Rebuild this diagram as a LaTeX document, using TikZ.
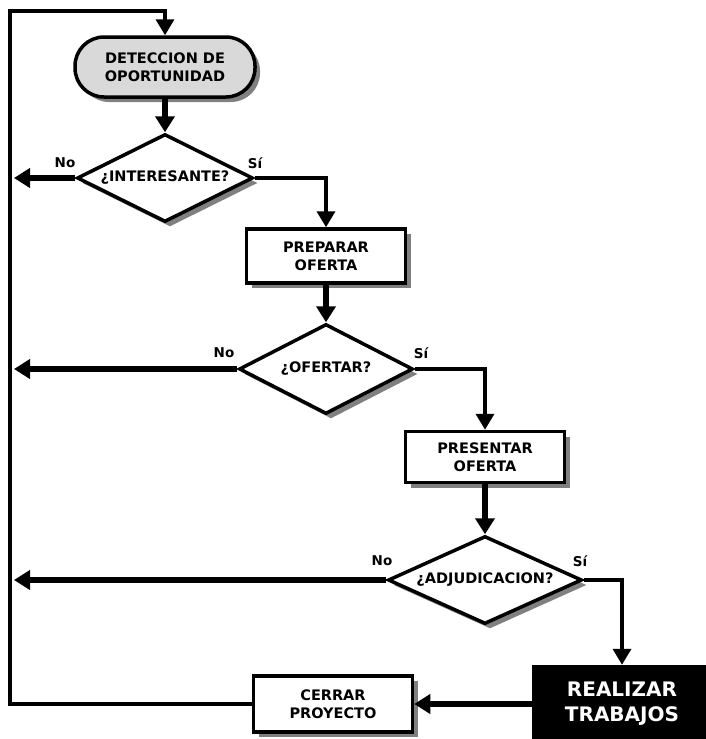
\documentclass[tikz,border=0pt]{standalone}
\usepackage{fontspec}
\setmainfont{DejaVu Sans}
\usetikzlibrary{shapes.geometric,arrows.meta,shadows}
\begin{document}
\begin{tikzpicture}[x=1pt,y=-1pt,
  shade/.style={drop shadow={shadow xshift=5pt,shadow yshift=-5pt,fill=black!50,opacity=1}},
  txt/.style={font=\bfseries\fontsize{14.5}{18}\selectfont, align=center},
  ans/.style={font=\bfseries\fontsize{13.5}{15}\selectfont},
  stepbox/.style={draw, line width=3.5pt, fill=white, minimum width=159pt,
    minimum height=54pt, inner sep=0pt, txt, shade},
  question/.style={diamond, draw, line width=3.5pt, fill=white, inner sep=0pt, shade},
  terminal/.style={draw, line width=3.5pt, fill=black!15, rounded corners=29pt,
    minimum width=180pt, minimum height=60pt, inner sep=0pt, txt, shade},
  heavy/.style={line width=6pt, -{Triangle[length=16pt,width=19pt]}},
  light/.style={line width=3.5pt, -{Triangle[length=16pt,width=18pt]}},
]
\useasboundingbox (0,0) rectangle (705,739);

% process nodes
\node[terminal] (term) at (165,67) {DETECCION DE\\OPORTUNIDAD};
\node[question, minimum width=176pt, minimum height=88pt,
  label={[txt]center:¿INTERESANTE?}] (d1) at (165,178) {};
\node[stepbox] (prep) at (326,256) {PREPARAR\\OFERTA};
\node[question, minimum width=174pt, minimum height=90pt,
  label={[txt]center:¿OFERTAR?}] (d2) at (326,369) {};
\node[stepbox, minimum height=51pt] (pres) at (485,457) {PRESENTAR\\OFERTA};
\node[question, minimum width=194pt, minimum height=88pt,
  label={[txt]center:¿ADJUDICACION?}] (d3) at (485,580) {};
\node[draw, fill=black, text=white, minimum width=180pt, minimum height=78pt,
  align=center, font=\bfseries\fontsize{20}{25}\selectfont] (real) at (622,704)
  {REALIZAR\\TRABAJOS};
\node[stepbox, minimum height=56pt] (cerr) at (333,704) {CERRAR\\PROYECTO};

% answer labels
\node[ans] (n1) at (65,163) {No};
\node[ans] (s1) at (255,163) {Sí};
\node[ans] (n2) at (224,353) {No};
\node[ans] (s2) at (421,353) {Sí};
\node[ans] (n3) at (382,561) {No};
\node[ans] (s3) at (580,561) {Sí};

% return line on the left
\coordinate (ret) at (14,0);
\coordinate (corner) at (10,11);

% main flow
\draw[heavy] (term.south) -- (d1.north);
\draw[light] (d1.east) -| (prep.north);
\draw[heavy] (prep.south) -- (d2.north);
\draw[light] (d2.east) -| (pres.north);
\draw[heavy] (pres.south) -- (d3.north);
\draw[light] (d3.east) -| (real.north);
\draw[heavy] (real.west) -- (cerr.east);

% rejected branches
\draw[heavy] (d1.west) -- (d1.west -| ret);
\draw[heavy] (d2.west) -- (d2.west -| ret);
\draw[heavy] (d3.west) -- (d3.west -| ret);

% loop back to the start
\draw[light] (cerr.west) -| (corner) -| (term.north);
\end{tikzpicture}
\end{document}
